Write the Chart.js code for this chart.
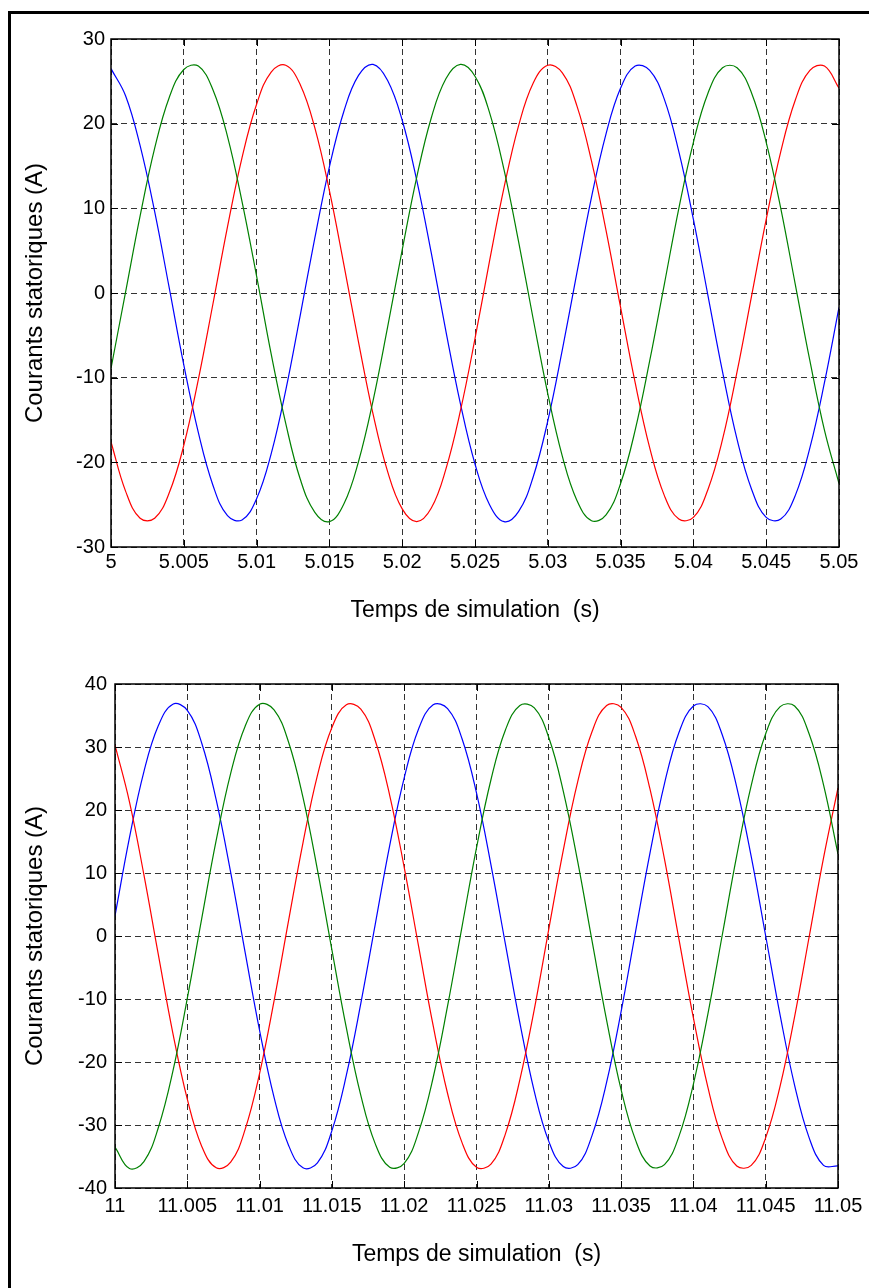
<!DOCTYPE html>
<html>
<head>
<meta charset="utf-8">
<title>Courants statoriques</title>
<script src="https://cdn.jsdelivr.net/npm/chart.js"></script>
<style>
    html, body { margin: 0; padding: 0; overflow: hidden; background: #fff; }
    #cadre { position: absolute; left: 8px; top: 11px; width: 900px; height: 1320px; border: 3px solid #000; }
    canvas { position: absolute; left: 0; }
</style>
</head>
<body>
<div id="cadre"></div>
<canvas id="haut" width="869" height="644" style="top:0"></canvas>
<canvas id="bas" width="869" height="644" style="top:644px"></canvas>

<script>
    // temps (s), un point toutes les 1 ms
    const tempsHaut = Array.from({length: 51}, (_, i) => +(5 + i * 0.001).toFixed(3));
    const tempsBas = Array.from({length: 51}, (_, i) => +(11 + i * 0.001).toFixed(3));

    // graduations
    const ticksXHaut = [5, 5.005, 5.01, 5.015, 5.02, 5.025, 5.03, 5.035, 5.04, 5.045, 5.05];
    const ticksYHaut = [-30, -20, -10, 0, 10, 20, 30];
    const ticksXBas = [11, 11.005, 11.01, 11.015, 11.02, 11.025, 11.03, 11.035, 11.04, 11.045, 11.05];
    const ticksYBas = [-40, -30, -20, -10, 0, 10, 20, 30, 40];

    // courants statoriques (A) - premier graphe (5 s)
    const vertHaut = [-8.9, 0.1, 9.1, 17.1, 23.1, 26.4, 26.8, 24.0, 18.5, 10.8,
        2.0, -7.2, -15.4, -22.0, -25.9, -27.0, -24.9, -19.9, -12.7, -4.0,
        5.1, 13.7, 20.7, 25.3, 27.0, 25.6, 21.3, 14.5, 6.0, -3.1,
        -11.9, -19.3, -24.5, -26.9, -26.2, -22.5, -16.2, -8.0, 1.0, 10.0,
        17.8, 23.6, 26.6, 26.6, 23.6, 17.8, 10.0, 1.0, -8.0, -16.2,
        -22.5];
    const rougeHaut = [-17.6, -23.4, -26.6, -26.6, -23.6, -18.0, -10.2, -1.3, 7.8, 16.0,
        22.3, 26.1, 26.9, 24.6, 19.5, 12.1, 3.3, -5.8, -14.3, -21.1,
        -25.5, -27.0, -25.4, -20.8, -13.9, -5.4, 3.8, 12.5, 19.8, 24.8,
        26.9, 26.0, 22.1, 15.6, 7.4, -1.7, -10.6, -18.3, -23.9, -26.7,
        -26.5, -23.2, -17.3, -9.3, -0.3, 8.7, 16.7, 22.8, 26.3, 26.8,
        24.2];
    const bleuHaut = [26.5, 23.3, 17.4, 9.6, 0.6, -8.5, -16.5, -22.7, -26.3, -26.8,
        -24.3, -19.0, -11.5, -2.6, 6.5, 14.9, 21.5, 25.7, 27.0, 25.1,
        20.4, 13.3, 4.7, -4.5, -13.1, -20.2, -25.0, -27.0, -25.8, -21.7,
        -15.1, -6.7, 2.4, 11.3, 18.8, 24.2, 26.8, 26.3, 22.9, 16.7,
        8.7, -0.3, -9.3, -17.3, -23.2, -26.5, -26.7, -23.9, -18.3, -10.6,
        -1.7];

    // courants statoriques (A) - second graphe (11 s)
    const bleuBas = [3.2, 15.6, 26.1, 33.4, 36.8, 35.8, 30.6, 21.6, 10.1, -2.6,
        -15.0, -25.6, -33.2, -36.8, -36.0, -30.9, -22.1, -10.7, 1.9, 14.4,
        25.1, 32.9, 36.7, 36.1, 31.3, 22.7, 11.3, -1.3, -13.8, -24.7,
        -32.6, -36.6, -36.3, -31.6, -23.2, -12.0, 0.7, 13.2, 24.2, 32.3,
        36.5, 36.4, 31.9, 23.6, 12.6, 0.0, -12.6, -23.7, -32.0, -36.4,
        -36.5];
    const vertBas = [-33.5, -36.9, -35.8, -30.4, -21.5, -9.9, 2.8, 15.2, 25.8, 33.3,
        36.8, 35.9, 30.8, 22.0, 10.5, -2.2, -14.6, -25.3, -33.0, -36.7,
        -36.1, -31.1, -22.5, -11.1, 1.5, 14.0, 24.8, 32.7, 36.6, 36.2,
        31.5, 23.0, 11.8, -0.9, -13.4, -24.4, -32.4, -36.5, -36.3, -31.8,
        -23.5, -12.4, 0.2, 12.8, 23.9, 32.1, 36.4, 36.5, 32.1, 24.0,
        13.0];
    const rougeBas = [30.3, 21.3, 9.7, -3.0, -15.4, -25.9, -33.4, -36.8, -35.9, -30.7,
        -21.8, -10.3, 2.4, 14.8, 25.5, 33.1, 36.7, 36.0, 31.0, 22.3,
        10.9, -1.7, -14.2, -25.0, -32.8, -36.7, -36.2, -31.4, -22.8, -11.6,
        1.1, 13.6, 24.5, 32.5, 36.6, 36.3, 31.7, 23.3, 12.2, -0.5,
        -13.0, -24.0, -32.2, -36.5, -36.4, -32.0, -23.8, -12.8, -0.2, 12.4,
        23.5];

    Chart.defaults.font.family = "'Liberation Sans', Arial, sans-serif";
    Chart.defaults.color = '#000';

    // cadre + graduations vers l'interieur (style matlab)
    const cadreMatlab = {
        id: 'cadreMatlab',
        afterDraw(chart) {
            const {ctx, chartArea: a, scales: {x, y}} = chart;
            const L = 7;
            ctx.save();
            ctx.strokeStyle = '#000';
            ctx.lineWidth = 1;
            ctx.setLineDash([]);
            ctx.beginPath();
            x.ticks.forEach(t => {
                const px = Math.round(x.getPixelForValue(t.value)) + 0.5;
                ctx.moveTo(px, a.bottom); ctx.lineTo(px, a.bottom - L);
                ctx.moveTo(px, a.top); ctx.lineTo(px, a.top + L);
            });
            y.ticks.forEach(t => {
                const py = Math.round(y.getPixelForValue(t.value)) + 0.5;
                ctx.moveTo(a.left, py); ctx.lineTo(a.left + L, py);
                ctx.moveTo(a.right, py); ctx.lineTo(a.right - L, py);
            });
            ctx.stroke();
            ctx.lineWidth = 1.5;
            ctx.strokeRect(Math.round(a.left), Math.round(a.top), Math.round(a.width), Math.round(a.height));
            ctx.restore();
        }
    };

    function trace(id, temps, series, ticksX, ticksY, g) {
        const ctx = document.getElementById(id).getContext('2d');
        return new Chart(ctx, {
            type: 'line',
            data: {
                datasets: series.map(s => ({
                    data: temps.map((t, i) => ({x: t, y: s.valeurs[i]})),
                    borderColor: s.couleur,
                    backgroundColor: s.couleur,
                    borderWidth: 1.2,
                    pointRadius: 0,
                    tension: 0.4,
                    fill: false
                }))
            },
            options: {
                responsive: false,
                animation: false,
                events: [],
                layout: {padding: {left: 0, top: g.haut, right: g.droite, bottom: 0}},
                plugins: {legend: {display: false}, tooltip: {enabled: false}},
                scales: {
                    x: {
                        type: 'linear',
                        min: ticksX[0],
                        max: ticksX[ticksX.length - 1],
                        afterBuildTicks: s => { s.ticks = ticksX.map(v => ({value: v})); },
                        afterFit: s => { s.height = g.hx; },
                        grid: {color: '#333', lineWidth: 1, drawTicks: false, borderDash: [6, 4]},
                        border: {display: false, dash: [6, 4]},
                        ticks: {
                            padding: g.padX,
                            autoSkip: false,
                            maxRotation: 0,
                            font: {size: 20},
                            callback: v => String(+v.toFixed(3))
                        },
                        title: {
                            display: true,
                            text: 'Temps de simulation  (s)',
                            font: {size: 23},
                            padding: {top: 0, bottom: 20}
                        }
                    },
                    y: {
                        min: ticksY[0],
                        max: ticksY[ticksY.length - 1],
                        afterBuildTicks: s => { s.ticks = ticksY.map(v => ({value: v})); },
                        afterFit: s => { s.width = g.gauche; },
                        grid: {color: '#333', lineWidth: 1, drawTicks: false, borderDash: [6, 4]},
                        border: {display: false, dash: [6, 4]},
                        ticks: {padding: g.padY, font: {size: 20}},
                        title: {
                            display: true,
                            text: 'Courants statoriques (A)',
                            font: {size: 24},
                            padding: {top: 21, bottom: 0}
                        }
                    }
                }
            },
            plugins: [cadreMatlab]
        });
    }

    trace('haut', tempsHaut, [
        {valeurs: vertHaut, couleur: '#008000'},
        {valeurs: rougeHaut, couleur: '#ff0000'},
        {valeurs: bleuHaut, couleur: '#0000ff'}
    ], ticksXHaut, ticksYHaut, {haut: 39, droite: 30, gauche: 111, hx: 97, padX: 3, padY: 6});

    trace('bas', tempsBas, [
        {valeurs: vertBas, couleur: '#008000'},
        {valeurs: rougeBas, couleur: '#ff0000'},
        {valeurs: bleuBas, couleur: '#0000ff'}
    ], ticksXBas, ticksYBas, {haut: 40, droite: 31, gauche: 115, hx: 100, padX: 6, padY: 8});
</script>
</body>
</html>
